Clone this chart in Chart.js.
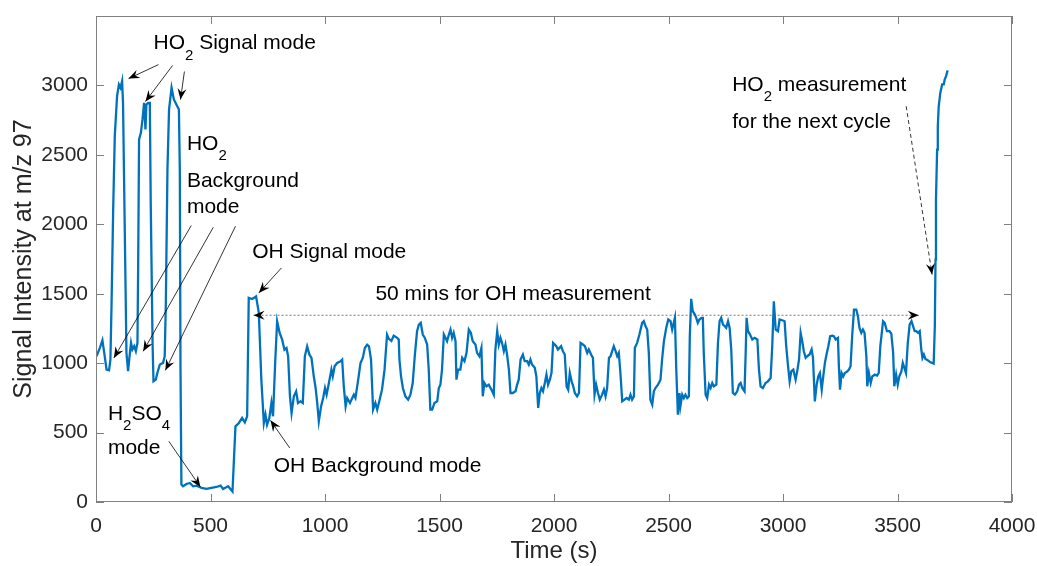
<!DOCTYPE html>
<html>
<head>
<meta charset="utf-8">
<script src="https://cdn.jsdelivr.net/npm/chart.js@4.4.1/dist/chart.umd.min.js"></script>
<style>
  body { margin: 0; background: #fff; }
</style>
</head>
<body>
<canvas id="sigChart" width="1037" height="566"></canvas>
<script>
/* data */
const timeSec = [
  2,17,28,38,46,57,63,68,75,82,92,100,107,114,118,126,133,140,148,153,159,167,174,181,184,188,196,203,210,216,220,228,235,239,247,251,261,268,279,293,300,305,312,319,330,340,351,362,366,369,373,380,395,410,424,439,461,482,504,526,544,555,577,596,
  609,624,638,650,660,667,682,699,711,722,733,740,747,757,766,773,783,791,802,813,823,832,839,847,854,864,874,882,893,903,912,922,932,941,951,959,966,973,983,992,1000,1007,1017,1028,1034,1042,1053,1068,1075,1082,1090,1097,1109,1119,1126,1133,1145,1155,1165,1174,1184,1192,1201,1210,1220,1228,1237,1249,1260,1271,1279,1290,
  1300,1315,1322,1325,1332,1340,1351,1363,1373,1383,1392,1402,1410,1418,1427,1436,1446,1453,1460,1468,1478,1490,1497,1504,1511,1519,1526,1533,1541,1548,1555,1562,1570,1574,1581,1591,1599,1609,1618,1628,1637,1645,1657,1664,1674,1683,1689,1696,1705,1715,1727,1737,1744,1752,1759,1766,1773,1781,1788,1795,1803,1810,1820,1832,1839,1846,1854,1864,1872,1883,1890,1897,1904,1916,1923,1931,1938,1945,1952,1960,1967,1974,1982,1989,1996,
  2010,2017,2024,2031,2039,2047,2055,2062,2069,2077,2084,2091,2101,2109,2116,2126,2135,2145,2152,2162,2170,2177,2184,2192,2200,2210,2218,2225,2232,2240,2247,2254,2261,2269,2276,2283,2290,2298,2308,2317,2327,2334,2341,2349,2353,2363,2373,2385,2392,2400,2407,2414,2421,2429,2436,2443,2454,2465,2472,2480,2490,2499,2509,2516,2523,2528,2534,2541,2548,2552,2560,2567,2574,2582,2589,2593,2599,2606,2615,2621,2628,2635,2644,2650,2654,2662,
  2669,2677,2684,2691,2698,2709,2716,2723,2730,2738,2746,2752,2760,2767,2774,2781,2790,2800,2808,2815,2822,2832,2837,2841,2847,2856,2866,2876,2888,2895,2902,2912,2924,2934,2946,2953,2960,2968,2978,2985,2997,3007,3014,3022,3029,3036,3045,3055,3062,3070,3077,3084,3091,3099,3106,3116,3125,3131,3135,3139,3147,3154,3161,3169,3174,3183,3190,3198,3206,3215,3222,3230,3240,3244,3249,3256,3263,3270,3281,3288,3295,3302,3310,3320,3327,3334,3342,3349,3356,3364,3368,3375,3383,3390,3401,
  3411,3418,3425,3437,3444,3454,3465,3473,3481,3486,3494,3501,3508,3517,3523,3530,3537,3545,3553,3561,3568,3575,3582,3590,3597,3604,3609,3615,3622,3632,3644,3658,3663,3666,3668,3673,3676,3680,3687,3695,3702,3706,3712,3719
];
const signal = [
  1050,1110,1165,1050,954,949,1026,1434,2106,2635,2923,3007,2983,3031,2875,1914,1074,942,1074,1146,1098,1122,1086,1146,1674,2611,2659,2755,2875,2683,2863,2875,2875,2154,1146,870,882,930,990,1002,1050,1434,2395,2827,2983,2899,2863,2827,2395,954,125,113,130,137,113,118,101,94,101,108,118,94,113,76,
  545,569,605,573,617,1470,1462,1481,1362,881,569,629,557,605,713,617,1025,1301,1217,1169,1097,1109,1049,761,641,761,797,713,725,713,1049,1121,1061,1037,905,821,713,581,689,749,821,773,857,953,905,977,1001,1013,1025,833,689,749,713,749,773,749,881,1001,1037,1109,1133,1121,1025,665,713,665,725,809,953,1205,1175,1160,
  1198,1182,1170,1026,905,821,761,737,773,857,1050,1230,1278,1290,1206,1182,1134,954,665,665,713,725,821,845,954,1206,1182,1158,1206,1242,1182,1218,1158,881,954,954,1038,1014,1074,1242,1218,1158,1134,1074,1050,1110,761,857,833,845,809,773,1098,1230,1134,1182,1146,1086,1134,1062,954,785,785,797,845,881,1026,1062,1014,1014,990,1026,990,966,905,677,785,821,797,857,917,845,881,929,1146,
  1122,1098,1110,1122,1086,1062,833,809,929,869,833,785,761,785,1146,1134,1122,1074,1098,1062,1038,773,845,785,737,773,809,761,821,1038,1050,1086,1122,1086,1050,1074,929,725,737,749,737,773,737,761,1110,1146,1206,1290,1302,1266,1242,1074,737,701,797,821,845,881,1026,1158,1254,1314,1302,1242,1290,1326,954,629,785,689,773,749,773,749,761,1194,1463,1374,1350,1326,1290,1314,1326,1326,1074,773,
  749,845,821,857,833,845,1146,1302,1326,1278,1266,1254,1302,1254,1098,785,773,797,845,857,821,797,1074,1326,1230,1206,1170,1182,1170,954,833,821,857,869,893,1122,1446,1242,1230,1314,1309,1302,1122,978,869,941,954,881,941,1026,1218,1158,1086,1038,1050,1062,1098,1038,881,725,845,905,929,809,881,1002,1062,1122,1194,1198,1194,1170,1182,978,809,929,905,929,941,954,978,1194,1386,1386,1338,1254,1218,1242,1218,1050,833,929,857,905,917,
  910,929,1122,1302,1290,1230,1230,1213,1074,833,917,845,905,941,1002,966,929,1146,1278,1302,1266,1230,1230,1218,1230,1098,1038,1062,1030,1021,1006,997,1266,1746,2178,2538,2706,2850,2947,3007,3007,3043,3067,3108
];
const xTicks = [0, 500, 1000, 1500, 2000, 2500, 3000, 3500, 4000];
const yTicks = [0, 500, 1000, 1500, 2000, 2500, 3000];
const xTitle = 'Time (s)';
const yTitle = 'Signal Intensity at m/z 97';

/* annotations, in data units (s, counts); "_n" marks a subscript */
const noteText = [
  ['HO_2 Signal mode', 251, 3259],
  ['HO_2', 397, 2538],
  ['Background', 397, 2271],
  ['mode', 397, 2080],
  ['H_2SO_4', 52, 593],
  ['mode', 52, 348],
  ['OH Signal mode', 682, 1758],
  ['OH Background mode', 776, 213],
  ['50 mins for OH measurement', 1220, 1458],
  ['HO_2 measurement', 2778, 2960],
  ['for the next cycle', 2778, 2695]
];
// [x0, y0, x1, y1, style] arrow points at (x1, y1)
const noteArrows = [
  [273, 3150, 142, 3049, 'solid'],
  [334, 3143, 216, 2884, 'solid'],
  [386, 3100, 369, 2898, 'solid'],
  [416, 1991, 78, 1037, 'solid'],
  [512, 1978, 206, 1085, 'solid'],
  [609, 1986, 303, 948, 'solid'],
  [318, 437, 456, 108, 'solid'],
  [810, 1686, 711, 1506, 'solid'],
  [846, 389, 762, 588, 'solid'],
  [688, 1345, 3593, 1345, 'dotted'],
  [3538, 2850, 3651, 1638, 'dashed']
];

const FONT = '"Liberation Sans", Arial, sans-serif';

function drawRich(ctx, str, x, y, size) {
  const parts = str.split(/_(\d)/);
  parts.forEach((p, i) => {
    if (!p) return;
    if (i % 2 === 1) {
      ctx.font = Math.round(size * 0.72) + 'px ' + FONT;
      ctx.fillText(p, x, y + size * 0.5);
    } else {
      ctx.font = size + 'px ' + FONT;
      ctx.fillText(p, x, y);
    }
    x += ctx.measureText(p).width;
  });
}

function arrowHead(ctx, x0, y0, x1, y1) {
  const ang = Math.atan2(y1 - y0, x1 - x0);
  const L = 11, W = 4.5;
  ctx.save();
  ctx.translate(x1, y1);
  ctx.rotate(ang);
  ctx.setLineDash([]);
  ctx.beginPath();
  ctx.moveTo(0, 0);
  ctx.lineTo(-L, -W);
  ctx.lineTo(-L * 0.65, 0);
  ctx.lineTo(-L, W);
  ctx.closePath();
  ctx.fill();
  ctx.restore();
}

const notesPlugin = {
  id: 'notes',
  afterDatasetsDraw(chart) {
    const {ctx, scales: {x, y}} = chart;
    ctx.save();
    ctx.fillStyle = '#000';
    ctx.textBaseline = 'alphabetic';
    ctx.textAlign = 'left';
    noteText.forEach(n => drawRich(ctx, n[0], x.getPixelForValue(n[1]), y.getPixelForValue(n[2]), 21));

    noteArrows.forEach(a => {
      const x0 = x.getPixelForValue(a[0]), y0 = y.getPixelForValue(a[1]);
      const x1 = x.getPixelForValue(a[2]), y1 = y.getPixelForValue(a[3]);
      ctx.lineWidth = 0.8;
      ctx.strokeStyle = a[4] === 'dotted' ? '#555' : '#000';
      ctx.setLineDash(a[4] === 'dotted' ? [2, 2] : a[4] === 'dashed' ? [4, 3] : []);
      ctx.beginPath();
      ctx.moveTo(x0, y0);
      ctx.lineTo(x1, y1);
      ctx.stroke();
      ctx.fillStyle = '#000';
      arrowHead(ctx, x0, y0, x1, y1);
      if (a[4] === 'dotted') arrowHead(ctx, x1, y1, x0, y0);
    });
    ctx.restore();
  }
};

/* box round the axes with inward ticks on all four sides */
const framePlugin = {
  id: 'frame',
  afterDraw(chart) {
    const {ctx, chartArea: a, scales: {x, y}} = chart;
    const tl = 8;
    ctx.save();
    ctx.strokeStyle = '#808080';
    ctx.lineWidth = 1;
    ctx.setLineDash([]);
    ctx.strokeRect(a.left + 0.5, a.top + 0.5, a.right - a.left - 1, a.bottom - a.top - 1);
    ctx.beginPath();
    x.ticks.forEach(t => {
      const px = Math.round(x.getPixelForValue(t.value)) + 0.5;
      ctx.moveTo(px, a.bottom); ctx.lineTo(px, a.bottom - tl);
      ctx.moveTo(px, a.top); ctx.lineTo(px, a.top + tl);
    });
    y.ticks.forEach(t => {
      const py = Math.round(y.getPixelForValue(t.value)) + 0.5;
      ctx.moveTo(a.left, py); ctx.lineTo(a.left + tl, py);
      ctx.moveTo(a.right, py); ctx.lineTo(a.right - tl, py);
    });
    ctx.stroke();
    ctx.restore();
  }
};

const tickFont = {family: FONT, size: 21};

new Chart(document.getElementById('sigChart').getContext('2d'), {
  type: 'line',
  data: {
    datasets: [{
      data: timeSec.map((t, i) => ({x: t, y: signal[i]})),
      borderColor: '#0072BD',
      borderWidth: 2.3,
      pointRadius: 0,
      tension: 0,
      fill: false
    }]
  },
  options: {
    responsive: false,
    animation: false,
    layout: {padding: {top: 16, right: 25, left: 0, bottom: 0}},
    plugins: {legend: {display: false}, tooltip: {enabled: false}},
    scales: {
      x: {
        type: 'linear', min: 0, max: 4000,
        afterBuildTicks: s => { s.ticks = xTicks.map(v => ({value: v})); },
        afterFit: s => { s.height = 64; s.paddingLeft = 0; s.paddingRight = 0; },
        grid: {display: false, drawTicks: false},
        border: {display: false},
        ticks: {padding: 12, color: '#262626', font: tickFont, maxRotation: 0, autoSkip: false, callback: v => String(v)},
        title: {display: true, text: xTitle, color: '#262626', font: {family: FONT, size: 24}, padding: {top: 0, bottom: 0}}
      },
      y: {
        type: 'linear', min: 0, max: 3500,
        afterBuildTicks: s => { s.ticks = yTicks.map(v => ({value: v})); },
        afterFit: s => { s.width = 96; s.paddingTop = 0; s.paddingBottom = 0; },
        grid: {display: false, drawTicks: false},
        border: {display: false},
        ticks: {padding: 8, color: '#262626', font: tickFont, autoSkip: false, callback: v => String(v)},
        title: {display: true, text: yTitle, color: '#262626', font: {family: FONT, size: 25}, padding: {top: 9, bottom: 0}}
      }
    }
  },
  plugins: [notesPlugin, framePlugin]
});
</script>
</body>
</html>
